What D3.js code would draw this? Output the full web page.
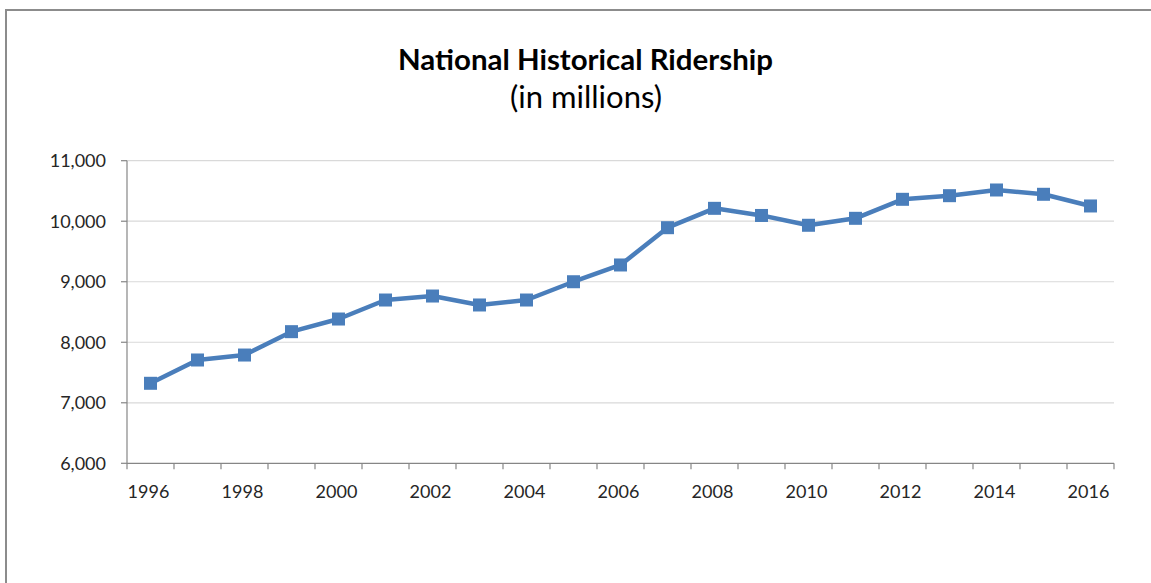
<!DOCTYPE html>
<html>
<head>
<meta charset="utf-8">
<script src="https://cdn.jsdelivr.net/npm/d3@7"></script>
<style>
  html, body { margin: 0; padding: 0; background: #fff; }
  svg { display: block; }
</style>
</head>
<body>
<svg id="chart" width="1151" height="583"></svg>
<script>
const years = ["1996","1997","1998","1999","2000","2001","2002","2003","2004","2005","2006",
               "2007","2008","2009","2010","2011","2012","2013","2014","2015","2016"];
const ridership = [7322, 7707, 7789, 8175, 8384, 8698, 8764, 8616, 8698, 9000, 9277,
                   9893, 10213, 10095, 9933, 10048, 10362, 10422, 10516, 10445, 10252];
const yTicks = [6000, 7000, 8000, 9000, 10000, 11000];
const xLabelYears = ["1996","1998","2000","2002","2004","2006","2008","2010","2012","2014","2016"];
const titleText = "National Historical Ridership";
const subtitleText = "(in millions)";

const svg = d3.select("#chart");
const font = "Lato, 'Open Sans', sans-serif";
const plot = { left: 127, right: 1114, top: 160.7, bottom: 463.3 };

// outer frame
svg.append("rect")
  .attr("x", 6).attr("y", 10)
  .attr("width", 1170).attr("height", 600)
  .attr("fill", "#fff").attr("stroke", "#8c8c8c").attr("stroke-width", 2);

const x = d3.scaleBand().domain(years).range([plot.left, plot.right]).padding(0);
const y = d3.scaleLinear().domain([6000, 11000]).range([plot.bottom, plot.top]);

// gridlines
svg.append("g").selectAll("line").data(yTicks.filter(d => d > 6000)).join("line")
  .attr("x1", plot.left).attr("x2", plot.right)
  .attr("y1", d => y(d)).attr("y2", d => y(d))
  .attr("stroke", "#d9d9d9").attr("stroke-width", 1.2);

// y axis line + ticks
svg.append("line")
  .attr("x1", plot.left).attr("x2", plot.left)
  .attr("y1", plot.top).attr("y2", plot.bottom)
  .attr("stroke", "#868686").attr("stroke-width", 1.2);
svg.append("g").selectAll("line").data(yTicks).join("line")
  .attr("x1", plot.left - 6).attr("x2", plot.left)
  .attr("y1", d => y(d)).attr("y2", d => y(d))
  .attr("stroke", "#868686").attr("stroke-width", 1.2);
svg.append("g").selectAll("text").data(yTicks).join("text")
  .attr("x", plot.left - 21).attr("y", d => y(d))
  .attr("dy", "0.36em")
  .attr("text-anchor", "end")
  .attr("font-family", font).attr("font-size", 18)
  .attr("fill", "#262626")
  .text(d => d3.format(",")(d));

// x axis line + ticks at band boundaries
svg.append("line")
  .attr("x1", plot.left).attr("x2", plot.right)
  .attr("y1", plot.bottom).attr("y2", plot.bottom)
  .attr("stroke", "#868686").attr("stroke-width", 1.2);
const boundaries = years.map(d => x(d)).concat([x(years[years.length - 1]) + x.bandwidth()]);
svg.append("g").selectAll("line").data(boundaries).join("line")
  .attr("x1", d => d).attr("x2", d => d)
  .attr("y1", plot.bottom).attr("y2", plot.bottom + 6)
  .attr("stroke", "#868686").attr("stroke-width", 1.2);
svg.append("g").selectAll("text").data(xLabelYears).join("text")
  .attr("x", d => x(d) + x.bandwidth() / 2 - 2)
  .attr("y", 497.5)
  .attr("text-anchor", "middle")
  .attr("font-family", font).attr("font-size", 18)
  .attr("fill", "#262626")
  .text(d => d);

// line series
const color = "#4a7ebb";
const line = d3.line()
  .x((d, i) => x(years[i]) + x.bandwidth() / 2)
  .y(d => y(d));
svg.append("path")
  .datum(ridership)
  .attr("d", line)
  .attr("fill", "none")
  .attr("stroke", color)
  .attr("stroke-width", 4.5)
  .attr("stroke-linejoin", "round");
const ms = 13;
svg.append("g").selectAll("rect").data(ridership).join("rect")
  .attr("x", (d, i) => x(years[i]) + x.bandwidth() / 2 - ms / 2)
  .attr("y", d => y(d) - ms / 2)
  .attr("width", ms).attr("height", ms)
  .attr("fill", color);

// titles
const t1 = svg.append("text")
  .attr("x", 585.5).attr("y", 70)
  .attr("text-anchor", "middle")
  .attr("font-family", font).attr("font-weight", "bold").attr("font-size", 24)
  .attr("fill", "#000")
  .text(titleText);
const t2 = svg.append("text")
  .attr("x", 586).attr("y", 108)
  .attr("text-anchor", "middle")
  .attr("font-family", font).attr("font-size", 23)
  .attr("fill", "#000")
  .text(subtitleText);
// fit widths to reference
function fit(sel, target) {
  const w = sel.node().getComputedTextLength();
  const fs = +sel.attr("font-size");
  sel.attr("font-size", fs * target / w);
}
fit(t1, 375);
fit(t2, 152);
</script>
</body>
</html>
